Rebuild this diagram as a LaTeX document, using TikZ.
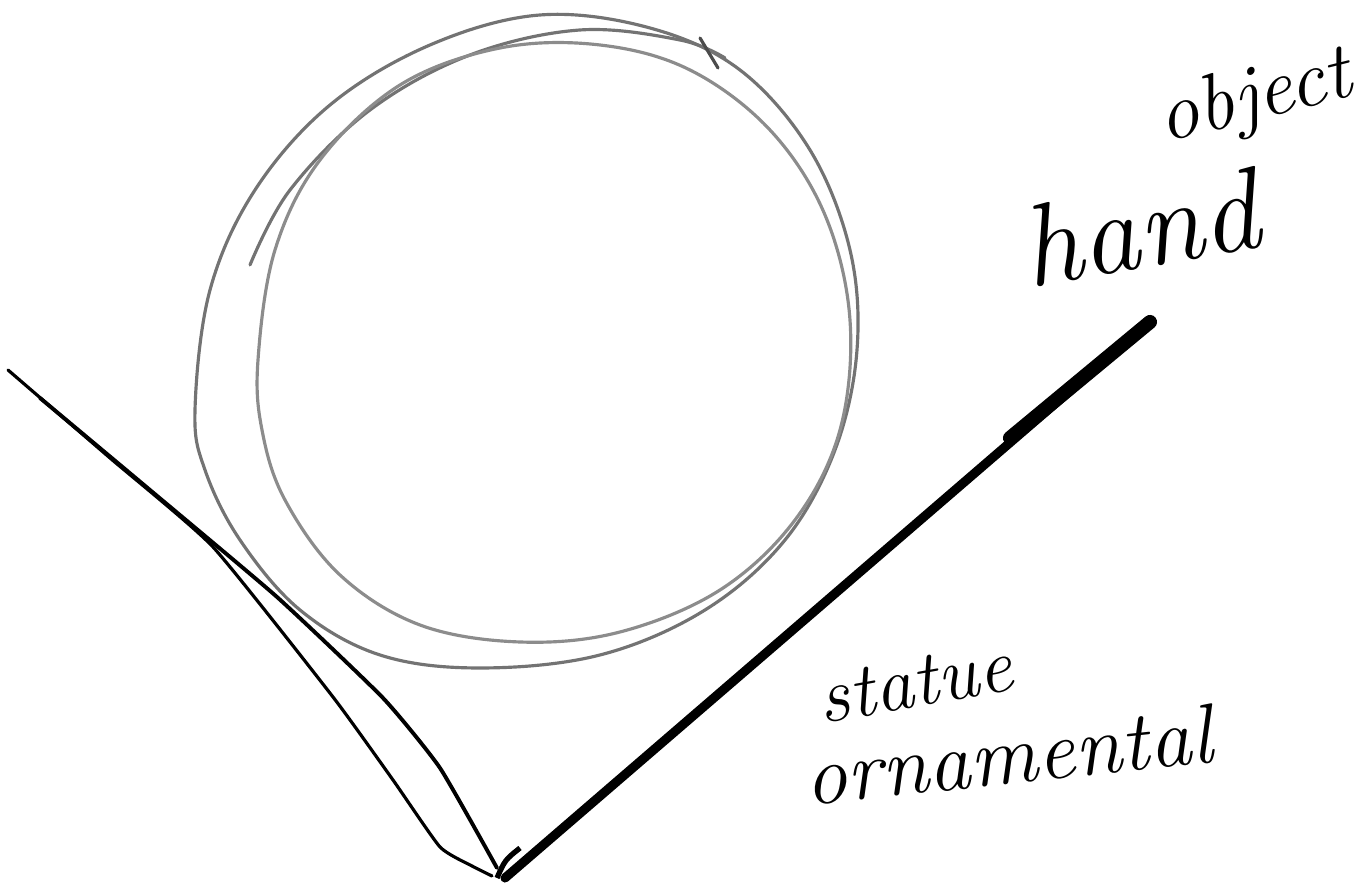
\documentclass[tikz,border=0pt]{standalone}
\begin{document}
\begin{tikzpicture}[x=0.01cm,y=-0.01cm,
  pencil/.style={draw=black!55,line width=0.9pt,line cap=round,line join=round},
  ink/.style={draw=black,line width=1.1pt,line cap=round,line join=round},
  thick ink/.style={draw=black,line width=2.6pt,line cap=round},
  hand/.style={font=\itshape,inner sep=0pt}]
\useasboundingbox (0,0) rectangle (1359,886);
% ball outlines
\draw[pencil] plot[smooth cycle,tension=0.6] coordinates {(195,410) (210,290) (255,190) (330,105) (430,45) (540,15) (650,28) (740,70) (810,150) (850,250) (857,350) (835,450) (785,540) (705,610) (600,655) (480,668) (380,655) (300,610) (240,540) (205,470)};
\draw[pencil] plot[smooth,tension=0.6] coordinates {(250,265) (290,190) (370,110) (470,55) (580,30) (680,40) (725,58)};
\draw[pencil,draw=black!45] plot[smooth cycle,tension=0.6] coordinates {(258,360) (275,250) (320,160) (400,85) (500,48) (600,45) (690,70) (770,130) (825,215) (850,320) (840,430) (795,520) (720,590) (620,632) (520,642) (420,625) (340,575) (285,500) (262,430)};
\draw[pencil,draw=black!70] (700,38) -- (718,68);
% V support
\draw[ink,line width=0.9pt] plot[smooth,tension=0.3] coordinates {(8,370) (110,458) (213,547) (333,697) (393,780) (440,847) (472,866) (492,876)};
\draw[ink] plot[smooth,tension=0.3] coordinates {(40,398) (150,490) (277,597) (383,698) (440,768) (497,868)};
\draw[thick ink] (505,878) -- (1150,322);
\draw[draw=black,line width=4pt,line cap=round] (1010,438) -- (1150,322);
\draw[draw=black,line width=1.5pt] (497,878) .. controls (505,860) .. (520,848);
% labels
\node[hand,font=\itshape\fontsize{23}{28}\selectfont,rotate=14] (obj) at (1255,100) {object};
\node[hand,font=\itshape\fontsize{33}{40}\selectfont,rotate=10] (hd) at (1140,228) {hand};
\node[hand,font=\itshape\fontsize{22}{26}\selectfont,rotate=10] (st) at (915,683) {statue};
\node[hand,font=\itshape\fontsize{24}{28}\selectfont,rotate=6] (orn) at (1008,755) {ornamental};
\end{tikzpicture}
\end{document}
